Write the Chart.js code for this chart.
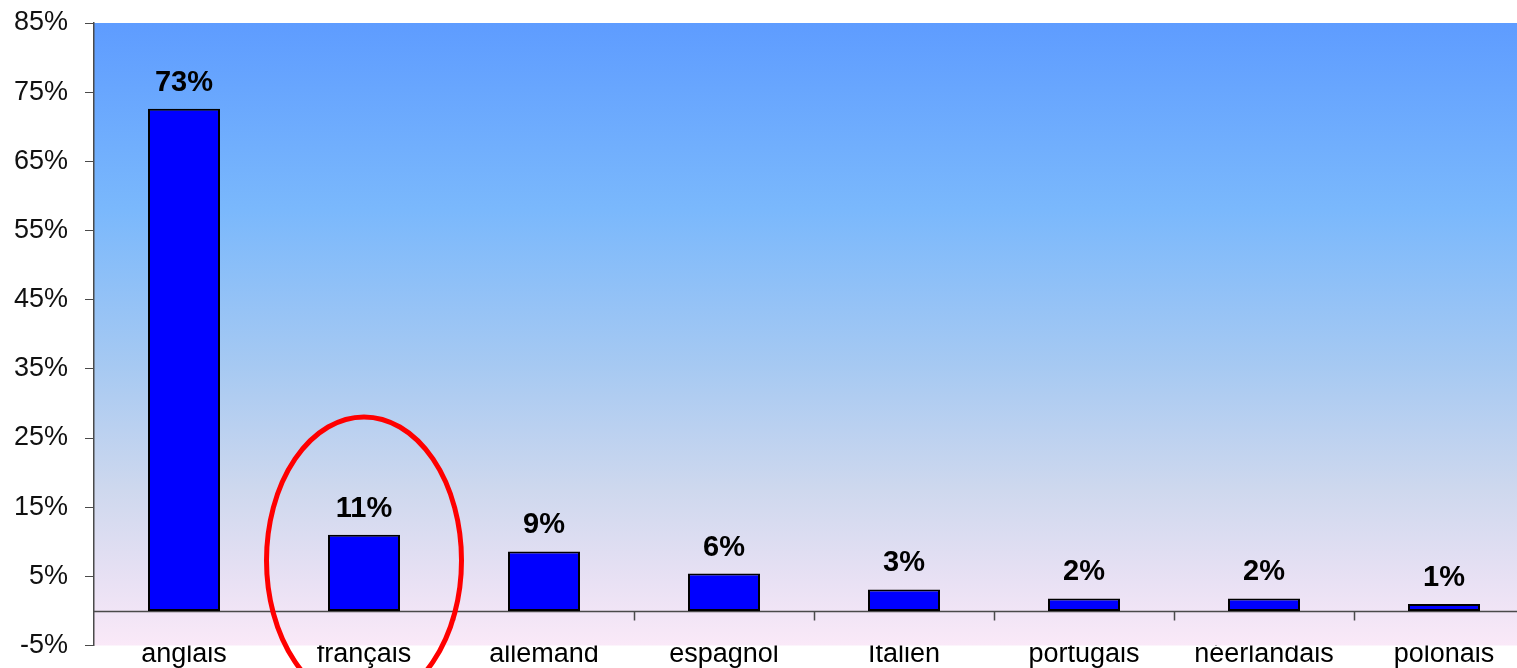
<!DOCTYPE html>
<html>
<head>
<meta charset="utf-8">
<script src="https://cdn.jsdelivr.net/npm/chart.js@4.4.1/dist/chart.umd.min.js"></script>
<style>
  html, body { margin: 0; padding: 0; background: #fff; overflow: hidden; }
  #wrap { position: relative; width: 1534px; height: 668px; }
</style>
</head>
<body>
<div id="wrap"><canvas id="c"></canvas></div>
<script>
const categories = ['anglais', 'français', 'allemand', 'espagnol', 'Italien', 'portugais', 'néerlandais', 'polonais'];
const values = [72.6, 11.0, 8.6, 5.4, 3.1, 1.8, 1.8, 1.0];
const valueLabels = ['73%', '11%', '9%', '6%', '3%', '2%', '2%', '1%'];
const yTickValues = [-5, 5, 15, 25, 35, 45, 55, 65, 75, 85];
const highlightIndex = 1;
const highlightCenterValue = 7.3;

const FONT = '"Liberation Sans", Arial, sans-serif';

const bgPlugin = {
  id: 'bg',
  beforeDraw(chart) {
    const { ctx, chartArea: a } = chart;
    const g = ctx.createLinearGradient(0, a.top, 0, a.bottom);
    g.addColorStop(0.00, 'rgb(94,156,255)');
    g.addColorStop(0.30, 'rgb(122,184,252)');
    g.addColorStop(0.55, 'rgb(166,201,242)');
    g.addColorStop(0.75, 'rgb(206,216,238)');
    g.addColorStop(0.90, 'rgb(233,225,244)');
    g.addColorStop(1.00, 'rgb(250,233,248)');
    ctx.save();
    ctx.fillStyle = g;
    ctx.fillRect(a.left, a.top, a.right - a.left, a.bottom - a.top);
    ctx.restore();
  },
  beforeDatasetsDraw(chart) {
    const { ctx, chartArea: a, scales } = chart;
    const y0 = Math.round(scales.y.getPixelForValue(0)) + 0.5;
    ctx.save();
    ctx.strokeStyle = '#4a4a4a';
    ctx.lineWidth = 1.5;
    ctx.beginPath();
    ctx.moveTo(a.left, y0);
    ctx.lineTo(a.right, y0);
    for (let i = 0; i < categories.length; i++) {
      const xb = Math.round(scales.x.getPixelForValue(i + 0.5)) + 0.5;
      ctx.moveTo(xb, y0);
      ctx.lineTo(xb, y0 + 9);
    }
    ctx.stroke();
    ctx.restore();
  },
  afterDatasetsDraw(chart) {
    const { ctx } = chart;
    const meta = chart.getDatasetMeta(0);
    ctx.save();
    ctx.fillStyle = '#000';
    ctx.font = 'bold 29px ' + FONT;
    ctx.textAlign = 'center';
    ctx.textBaseline = 'alphabetic';
    meta.data.forEach((bar, i) => {
      ctx.fillText(valueLabels[i], bar.x, bar.y - 18);
    });
    ctx.restore();
  },
  afterDraw(chart) {
    const { ctx, scales } = chart;
    const cx = scales.x.getPixelForValue(highlightIndex);
    const cy = scales.y.getPixelForValue(highlightCenterValue);
    ctx.save();
    ctx.strokeStyle = '#ff0000';
    ctx.lineWidth = 5;
    ctx.beginPath();
    ctx.ellipse(cx, cy, 97.5, 143.5, 0, 0, Math.PI * 2);
    ctx.stroke();
    ctx.restore();
  }
};

new Chart(document.getElementById('c'), {
  type: 'bar',
  data: {
    labels: categories,
    datasets: [{
      data: values,
      backgroundColor: '#0000ff',
      borderColor: '#000000',
      borderWidth: 2,
      borderSkipped: false,
      categoryPercentage: 1.0,
      barPercentage: 0.4
    }]
  },
  options: {
    responsive: true,
    maintainAspectRatio: false,
    animation: false,
    layout: { padding: { top: 23, left: 0, right: 0, bottom: 0 } },
    plugins: { legend: { display: false }, tooltip: { enabled: false } },
    scales: {
      x: {
        grid: { display: false, drawTicks: false },
        border: { display: false },
        ticks: { color: '#000', font: { family: FONT, size: 27 }, padding: -7, maxRotation: 0, autoSkip: false },
        afterFit(scale) { scale.height = 22.5; scale.paddingLeft = 0; scale.paddingRight = 0; }
      },
      y: {
        min: -5, max: 85,
        afterBuildTicks(scale) { scale.ticks = yTickValues.map(v => ({ value: v })); },
        grid: { drawOnChartArea: false, drawTicks: true, tickLength: 9, tickColor: '#4a4a4a' },
        border: { display: true, color: '#4a4a4a', width: 1.5 },
        ticks: { color: '#111', font: { family: FONT, size: 27 }, padding: 17, callback: v => v + '%' },
        afterFit(scale) { scale.width = 94; scale.paddingTop = 0; scale.paddingBottom = 0; }
      }
    }
  },
  plugins: [bgPlugin]
});
</script>
</body>
</html>
